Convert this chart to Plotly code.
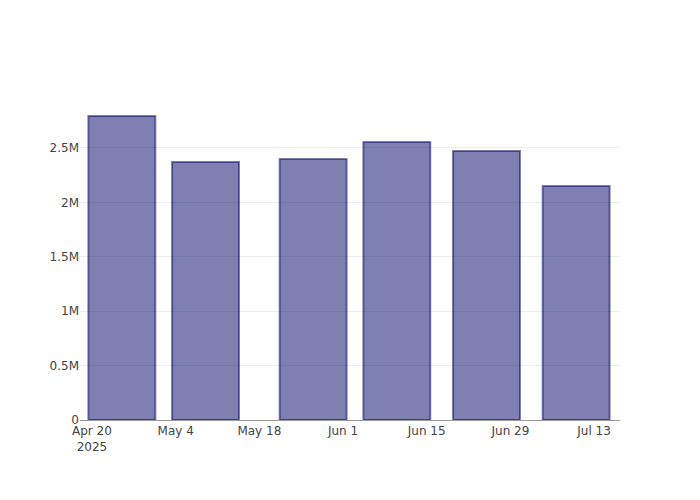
import plotly.graph_objects as go

dates = ["2025-04-25", "2025-05-09", "2025-05-27", "2025-06-10", "2025-06-25", "2025-07-10"]
values = [2794000, 2371000, 2399000, 2555000, 2472000, 2151000]

fig = go.Figure(go.Bar(
    x=dates, y=values,
    marker=dict(color="rgba(0,0,100,0.5)",
                line=dict(color="rgba(0,0,100,0.5)", width=2)),
))
fig.update_layout(
    width=700, height=500,
    template="none",
    plot_bgcolor="white", paper_bgcolor="white",
    margin=dict(l=72, r=88, t=92, b=88),
    font=dict(family="DejaVu Sans", color="#444", size=12),
    showlegend=False,
    xaxis=dict(type="date", range=["2025-04-18", "2025-07-17 08:00"],
               tick0="2025-04-20", dtick=14 * 86400000,
               showgrid=False, showline=True, linecolor="#999", linewidth=1,
               ticks="", zeroline=False),
    yaxis=dict(range=[0, 2.941e6], dtick=500000, showgrid=True,
               gridcolor="#eee", gridwidth=1, zeroline=False, showline=False, ticks=""),
)
fig.write_html("out.html")
